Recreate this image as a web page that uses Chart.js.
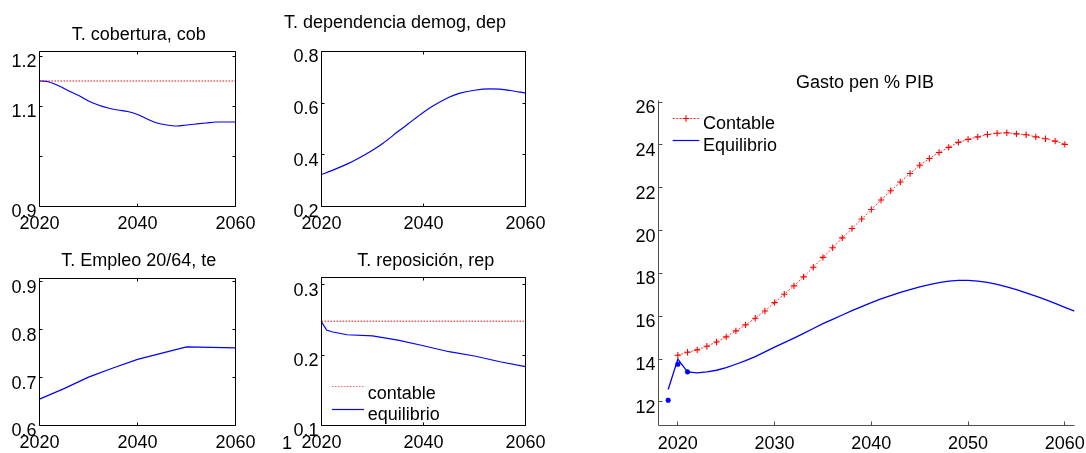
<!DOCTYPE html>
<html>
<head>
<meta charset="utf-8">
<script src="https://cdn.jsdelivr.net/npm/chart.js@4.4.0/dist/chart.umd.min.js"></script>
<style>
  html, body { margin: 0; padding: 0; background: #fff; }
  body { width: 1086px; height: 453px; position: relative; overflow: hidden; }
  canvas { position: absolute; }
</style>
</head>
<body>
<canvas id="cobChart"></canvas>
<canvas id="depChart"></canvas>
<canvas id="teChart"></canvas>
<canvas id="repChart"></canvas>
<canvas id="gastoChart"></canvas>
<script>
// --- data ---
const cobYears = [2020, 2022, 2024, 2026, 2028, 2030, 2032, 2034, 2036, 2038, 2040,
                  2042, 2044, 2046, 2048, 2050, 2052, 2054, 2056, 2058, 2060];
const cobEquilibrio = [1.151, 1.149, 1.141, 1.131, 1.122, 1.111, 1.103, 1.097, 1.093, 1.090, 1.084,
                       1.075, 1.067, 1.063, 1.061, 1.063, 1.065, 1.067, 1.069, 1.069, 1.069];
const cobContableYears = [2020, 2060];
const cobContable = [1.151, 1.151];

const depYears = [2020, 2022, 2025, 2027, 2030, 2032, 2035, 2037, 2040, 2042, 2045, 2047, 2050, 2053, 2055, 2057, 2060];
const depEquilibrio = [0.324, 0.339, 0.364, 0.384, 0.418, 0.444, 0.490, 0.520, 0.565, 0.591, 0.623, 0.638, 0.650, 0.655, 0.654, 0.649, 0.639];

const teYears = [2020, 2025, 2030, 2035, 2040, 2045, 2050, 2055, 2060];
const teEquilibrio = [0.655, 0.677, 0.701, 0.720, 0.738, 0.751, 0.764, 0.763, 0.762];

const repYears = [2020, 2021, 2022, 2025, 2030, 2035, 2040, 2045, 2050, 2055, 2060];
const repEquilibrio = [0.247, 0.2354, 0.233, 0.2288, 0.2273, 0.2212, 0.2132, 0.2047, 0.1986, 0.1905, 0.1835];
const repContableYears = [2020, 2060];
const repContable = [0.248, 0.248];

const gastoContableYears = [2020, 2021, 2022, 2023, 2024, 2025, 2026, 2027, 2028, 2029, 2030,
                            2031, 2032, 2033, 2034, 2035, 2036, 2037, 2038, 2039, 2040,
                            2041, 2042, 2043, 2044, 2045, 2046, 2047, 2048, 2049, 2050,
                            2051, 2052, 2053, 2054, 2055, 2056, 2057, 2058, 2059, 2060];
const gastoContable = [14.18, 14.32, 14.43, 14.60, 14.80, 15.04, 15.32, 15.60, 15.91, 16.25, 16.64,
                       17.03, 17.42, 17.84, 18.29, 18.75, 19.20, 19.66, 20.10, 20.54, 20.99,
                       21.43, 21.86, 22.27, 22.67, 23.05, 23.37, 23.65, 23.89, 24.12, 24.26,
                       24.38, 24.49, 24.55, 24.57, 24.52, 24.48, 24.38, 24.29, 24.18, 24.03];
const gastoEquilibrioYears = [2019, 2020, 2021, 2022, 2023, 2024, 2025, 2026, 2027, 2028, 2029, 2030,
                              2031, 2032, 2033, 2034, 2035, 2036, 2037, 2038, 2039, 2040,
                              2041, 2042, 2043, 2044, 2045, 2046, 2047, 2048, 2049, 2050,
                              2051, 2052, 2053, 2054, 2055, 2056, 2057, 2058, 2059, 2060, 2061];
const gastoEquilibrio = [12.58, 14.00, 13.40, 13.36, 13.40, 13.48, 13.60, 13.76, 13.93, 14.12, 14.34, 14.56,
                         14.77, 14.98, 15.20, 15.43, 15.66, 15.86, 16.06, 16.26, 16.45, 16.64,
                         16.81, 16.97, 17.12, 17.25, 17.37, 17.48, 17.57, 17.64, 17.68, 17.68,
                         17.64, 17.58, 17.49, 17.37, 17.24, 17.09, 16.94, 16.78, 16.60, 16.42, 16.24];
const gastoHistYears = [2019, 2020, 2021];
const gastoHist = [12.08, 13.76, 13.40];

const subplotXTicks = { min: 2020, max: 2060, step: 20 };
const gastoXTicks = { min: 2018, max: 2061, step: 10 };

// --- helpers ---
const FONT = { family: '"Liberation Sans", Arial, Helvetica, sans-serif', size: 18 };
const RED = '#ff0000';
const BLUE = '#0000ff';

function pts(xs, ys) {
    return xs.map((x, i) => ({ x: x, y: ys[i] }));
}

function crisp(v) {
    return Math.round(v - 0.5) + 0.5;
}

const framePlugin = {
    id: 'frame',
    afterDraw(chart, args, opts) {
        const { ctx, chartArea: a } = chart;
        const xs = chart.scales.x;
        const ys = chart.scales.y;
        const L = opts.tickLen;
        const left = crisp(a.left), right = crisp(a.right), top = crisp(a.top), bottom = crisp(a.bottom);
        ctx.save();
        ctx.lineWidth = 1;
        ctx.strokeStyle = opts.color;
        ctx.beginPath();
        if (opts.box) {
            ctx.rect(left, top, right - left, bottom - top);
        } else {
            ctx.moveTo(left, top);
            ctx.lineTo(left, bottom);
            ctx.lineTo(right, bottom);
        }
        xs.ticks.forEach((t) => {
            const px = crisp(xs.getPixelForValue(t.value));
            ctx.moveTo(px, bottom);
            ctx.lineTo(px, bottom - L);
            if (opts.box) {
                ctx.moveTo(px, top);
                ctx.lineTo(px, top + L);
            }
        });
        ys.ticks.forEach((t) => {
            const py = crisp(ys.getPixelForValue(t.value));
            ctx.moveTo(left, py);
            ctx.lineTo(left + L, py);
            if (opts.box) {
                ctx.moveTo(right, py);
                ctx.lineTo(right - L, py);
            }
        });
        ctx.stroke();

        // legend samples
        (opts.samples || []).forEach((s) => {
            ctx.beginPath();
            ctx.strokeStyle = s.color;
            ctx.lineWidth = s.width || 1;
            ctx.setLineDash(s.dash || []);
            ctx.moveTo(s.x1 - opts.ox, s.y - opts.oy);
            ctx.lineTo(s.x2 - opts.ox, s.y - opts.oy);
            ctx.stroke();
            ctx.setLineDash([]);
            if (s.cross) {
                const cx = (s.x1 + s.x2) / 2 - opts.ox;
                const cy = s.y - opts.oy;
                ctx.beginPath();
                ctx.strokeStyle = RED;
                ctx.lineWidth = 1.1;
                ctx.moveTo(cx - 3.2, cy);
                ctx.lineTo(cx + 3.2, cy);
                ctx.moveTo(cx, cy - 3.2);
                ctx.lineTo(cx, cy + 3.2);
                ctx.stroke();
            }
        });

        // titles and legend text
        ctx.fillStyle = '#000';
        ctx.font = FONT.size + 'px ' + FONT.family;
        ctx.textBaseline = 'middle';
        (opts.texts || []).forEach((t) => {
            ctx.textAlign = t.align || 'center';
            ctx.fillText(t.text, t.x - opts.ox, t.y - opts.oy);
        });
        ctx.restore();
    }
};

function makePanel(id, box, area, cfg) {
    const canvas = document.getElementById(id);
    canvas.width = box.w;
    canvas.height = box.h;
    canvas.style.left = box.x + 'px';
    canvas.style.top = box.y + 'px';

    const yWidth = area.l - box.x;
    const xHeight = box.y + box.h - area.b;

    return new Chart(canvas, {
        type: 'line',
        data: { datasets: cfg.datasets },
        options: {
            responsive: false,
            animation: false,
            devicePixelRatio: 1,
            events: [],
            layout: {
                padding: { top: area.t - box.y, right: box.x + box.w - area.r, bottom: 0, left: 0 }
            },
            plugins: {
                legend: { display: false },
                tooltip: { enabled: false },
                title: { display: false },
                frame: {
                    box: cfg.box,
                    tickLen: cfg.tickLen,
                    color: cfg.frameColor,
                    ox: box.x,
                    oy: box.y,
                    texts: cfg.texts,
                    samples: cfg.samples
                }
            },
            scales: {
                x: {
                    type: 'linear',
                    min: cfg.x.min,
                    max: cfg.x.max,
                    grid: { display: false, drawTicks: false },
                    border: { display: false },
                    ticks: {
                        stepSize: cfg.x.step,
                        includeBounds: false,
                        autoSkip: false,
                        maxRotation: 0,
                        padding: cfg.xPad,
                        color: '#000',
                        font: FONT,
                        callback: (v) => String(v)
                    },
                    afterFit: (s) => {
                        s.height = xHeight;
                        s.paddingLeft = 0;
                        s.paddingRight = 0;
                    }
                },
                y: {
                    type: 'linear',
                    min: cfg.y.min,
                    max: cfg.y.max,
                    grid: { display: false, drawTicks: false },
                    border: { display: false },
                    ticks: {
                        stepSize: cfg.y.step,
                        includeBounds: false,
                        autoSkip: false,
                        padding: 3,
                        labelOffset: 6,
                        color: '#000',
                        font: FONT,
                        callback: cfg.y.format
                    },
                    afterFit: (s) => {
                        s.width = yWidth;
                        s.paddingTop = 0;
                        s.paddingBottom = 0;
                    }
                }
            }
        },
        plugins: [framePlugin]
    });
}

function line(xs, ys, color, extra) {
    return Object.assign({
        data: pts(xs, ys),
        borderColor: color,
        backgroundColor: color,
        borderWidth: 1.2,
        pointRadius: 0,
        fill: false,
        tension: 0
    }, extra || {});
}

const dotted = { borderWidth: 1, borderDash: [1.5, 1.5] };
const oneDecimal = (v) => v.toFixed(1);

// --- panels ---
makePanel('cobChart', { x: 0, y: 0, w: 262, h: 240 }, { l: 39.5, t: 51.5, r: 235.5, b: 206.5 }, {
    datasets: [
        line(cobContableYears, cobContable, RED, dotted),
        line(cobYears, cobEquilibrio, BLUE, { cubicInterpolationMode: 'monotone' })
    ],
    x: subplotXTicks,
    y: { min: 0.9, max: 1.21, step: 0.1, format: (v) => (Math.abs(v - 1) < 1e-9 ? '' : v.toFixed(1)) },
    xPad: 7, box: true, tickLen: 3, frameColor: '#000',
    texts: [{ text: 'T. cobertura, cob', x: 138.8, y: 35 }]
});

makePanel('depChart', { x: 262, y: 0, w: 300, h: 240 }, { l: 321.5, t: 51.5, r: 525.5, b: 206.5 }, {
    datasets: [
        line(depYears, depEquilibrio, BLUE, { cubicInterpolationMode: 'monotone' })
    ],
    x: subplotXTicks,
    y: { min: 0.2, max: 0.8, step: 0.2, format: oneDecimal },
    xPad: 7, box: true, tickLen: 3, frameColor: '#000',
    texts: [{ text: 'T. dependencia demog, dep', x: 395, y: 23.5 }]
});

makePanel('teChart', { x: 0, y: 240, w: 262, h: 213 }, { l: 39.5, t: 278.5, r: 235.5, b: 425.5 }, {
    datasets: [
        line(teYears, teEquilibrio, BLUE)
    ],
    x: subplotXTicks,
    y: { min: 0.6, max: 0.907, step: 0.1, format: oneDecimal },
    xPad: 7, box: true, tickLen: 3, frameColor: '#000',
    texts: [{ text: 'T. Empleo 20/64, te', x: 138.7, y: 261.5 }]
});

makePanel('repChart', { x: 262, y: 240, w: 300, h: 213 }, { l: 321.5, t: 277.5, r: 525.5, b: 425.5 }, {
    datasets: [
        line(repContableYears, repContable, RED, dotted),
        line(repYears, repEquilibrio, BLUE)
    ],
    x: subplotXTicks,
    y: { min: 0.1, max: 0.31, step: 0.1, format: oneDecimal },
    xPad: 7, box: true, tickLen: 3, frameColor: '#000',
    texts: [
        { text: 'T. reposición, rep', x: 425.8, y: 261.5 },
        { text: 'contable', x: 367.7, y: 394.5, align: 'left' },
        { text: 'equilibrio', x: 367.7, y: 415.5, align: 'left' },
        { text: '1', x: 287, y: 444.5 }
    ],
    samples: [
        { x1: 332, x2: 364, y: 386.5, color: '#ff6666', dash: [1.5, 1.5] },
        { x1: 332, x2: 364, y: 409.5, color: BLUE, width: 1.2 }
    ]
});

makePanel('gastoChart', { x: 600, y: 60, w: 500, h: 393 }, { l: 658.5, t: 100, r: 1074.5, b: 425.5 }, {
    datasets: [
        line(gastoContableYears, gastoContable, RED, {
            borderWidth: 1,
            borderDash: [2, 1.5],
            borderColor: '#ff3333',
            pointStyle: 'cross',
            pointRadius: 3.2,
            pointBorderColor: RED,
            pointBorderWidth: 1.1
        }),
        line(gastoEquilibrioYears, gastoEquilibrio, BLUE, { borderWidth: 1.3 }),
        line(gastoHistYears, gastoHist, BLUE, {
            showLine: false,
            pointStyle: 'star',
            pointRadius: 2.6,
            pointBorderColor: BLUE,
            pointBorderWidth: 1.6
        })
    ],
    x: gastoXTicks,
    y: { min: 10.9, max: 26.1, step: 2, format: (v) => String(v) },
    xPad: 8, box: false, tickLen: 4, frameColor: '#4d4d4d',
    texts: [
        { text: 'Gasto pen % PIB', x: 865, y: 83.5 },
        { text: 'Contable', x: 703, y: 124, align: 'left' },
        { text: 'Equilibrio', x: 703, y: 146.5, align: 'left' }
    ],
    samples: [
        { x1: 672.7, x2: 699.3, y: 118.5, color: '#ff3333', dash: [2, 1.5], cross: true },
        { x1: 672.7, x2: 699.3, y: 140.5, color: BLUE, width: 1.2 }
    ]
});
</script>
</body>
</html>
